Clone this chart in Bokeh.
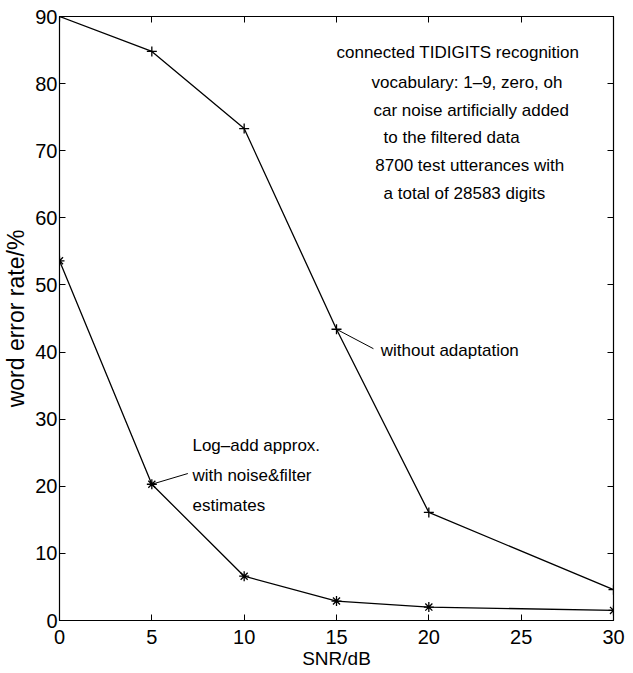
from bokeh.plotting import figure
from bokeh.models import Range1d, Label, FixedTicker, LinearAxis
from bokeh.embed import file_html
from bokeh.resources import INLINE

# ---- data ----
snr = [0, 5, 10, 15, 20, 30]
without_adapt = [90.0, 84.8, 73.3, 43.4, 16.1, 4.6]
logadd = [53.6, 20.3, 6.6, 2.9, 2.0, 1.5]
x_ticks = [0, 5, 10, 15, 20, 25, 30]
y_ticks = [0, 10, 20, 30, 40, 50, 60, 70, 80, 90]

info_lines = ["connected TIDIGITS recognition",
              "vocabulary: 1\u20139, zero, oh",
              "car noise artificially added",
              "to the filtered data",
              "8700 test utterances with",
              "a total of 28583 digits"]
label_without = "without adaptation"
label_logadd = ["Log\u2013add approx.", "with noise&filter", "estimates"]

FONT = "'Liberation Sans Narrow', 'Arial Narrow', 'Liberation Sans', sans-serif"
AXFONT = "'Liberation Sans', Arial, sans-serif"
XMIN, XMAX, YMIN, YMAX = 0, 30, 0, 90

p = figure(width=633, height=673, output_backend="svg", toolbar_location=None,
           x_range=Range1d(XMIN, XMAX), y_range=Range1d(YMIN, YMAX),
           min_border_left=57, min_border_right=20, min_border_top=16, min_border_bottom=53)
p.background_fill_color = "white"
p.border_fill_color = "white"
p.outline_line_color = "black"
p.outline_line_width = 1.2
p.xgrid.visible = False
p.ygrid.visible = False

for ax in (p.xaxis[0], p.yaxis[0]):
    ax.major_tick_in = 6
    ax.major_tick_out = 0
    ax.minor_tick_line_color = None
    ax.axis_line_color = "black"
    ax.major_tick_line_color = "black"
    ax.major_label_text_font = FONT
    ax.major_label_text_font_size = "20px"
    ax.major_label_text_color = "black"
    ax.axis_label_text_font_style = "normal"
    ax.axis_label_text_color = "black"

p.xaxis.ticker = FixedTicker(ticks=x_ticks)
p.yaxis.ticker = FixedTicker(ticks=y_ticks)
p.xaxis.axis_label = "SNR/dB"
p.xaxis.axis_label_text_font = FONT
p.xaxis.axis_label_text_font_size = "19px"
p.xaxis.major_label_standoff = 9
p.xaxis.axis_label_standoff = 1
p.yaxis.axis_label = "word error rate/%"
p.yaxis.axis_label_text_font = AXFONT
p.yaxis.axis_label_text_font_size = "23px"
p.yaxis.major_label_standoff = 2
p.yaxis.axis_label_standoff = 3

# mirrored inward ticks on top and right edges (no labels)
top_axis = LinearAxis(ticker=FixedTicker(ticks=x_ticks), major_tick_in=6, major_tick_out=0,
                      minor_tick_line_color=None, axis_line_color=None,
                      major_label_overrides={t: "" for t in x_ticks}, major_label_standoff=0)
right_axis = LinearAxis(ticker=FixedTicker(ticks=y_ticks), major_tick_in=6, major_tick_out=0,
                        minor_tick_line_color=None, axis_line_color=None,
                        major_label_overrides={t: "" for t in y_ticks}, major_label_standoff=0)
p.add_layout(top_axis, "above")
p.add_layout(right_axis, "right")

p.line(snr, without_adapt, line_color="black", line_width=1.3)
p.scatter(snr, without_adapt, marker="cross", size=10, line_color="black", line_width=1.3)
p.line(snr, logadd, line_color="black", line_width=1.3)
p.scatter(snr, logadd, marker="asterisk", size=10, line_color="black", line_width=1.3)

# info text block
info_x = [15.0, 16.9, 17.0, 17.55, 17.1, 17.55]
info_y = [84.6, 80.2, 76.0, 72.0, 67.8, 63.6]
for t, xx, yy in zip(info_lines, info_x, info_y):
    p.add_layout(Label(x=xx, y=yy, text=t, text_font=FONT, text_font_size="17px",
                       text_baseline="middle", text_color="black"))

# without adaptation annotation
p.line([15.0, 17.0], [43.4, 40.5], line_color="black", line_width=1)
p.add_layout(Label(x=17.4, y=40.2, text=label_without, text_font=FONT, text_font_size="17px",
                   text_baseline="middle", text_color="black"))

# log-add annotation
p.line([5.0, 6.95], [20.3, 21.9], line_color="black", line_width=1)
for t, yy in zip(label_logadd, [26.1, 21.6, 17.1]):
    p.add_layout(Label(x=7.2, y=yy, text=t, text_font=FONT, text_font_size="17px",
                       text_baseline="middle", text_color="black"))

open("out.html", "w").write(file_html(p, INLINE))
